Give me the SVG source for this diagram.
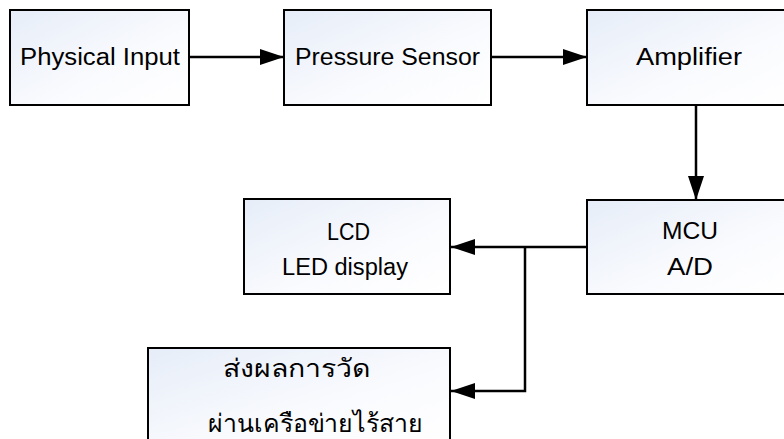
<svg xmlns="http://www.w3.org/2000/svg" width="784" height="439" viewBox="0 0 784 439">
<defs>
<linearGradient id="g" x1="0" y1="0" x2="1" y2="1">
<stop offset="0" stop-color="#e6edf8"/>
<stop offset="0.6" stop-color="#fafbfe"/>
<stop offset="1" stop-color="#ffffff"/>
</linearGradient>
<marker id="a" markerWidth="24" markerHeight="16" refX="24" refY="8" orient="auto" markerUnits="userSpaceOnUse">
<path d="M0,0 L24,8 L0,16 Z" fill="#000"/>
</marker>
</defs>
<style>
.box{fill:url(#g);stroke:#000;stroke-width:2}
.t{font-family:"Liberation Sans","Noto Sans",sans-serif;font-size:23px;fill:#000;text-anchor:middle}
.th{font-size:25px}
.c{fill:none;stroke:#000;stroke-width:2.5}
</style>
<rect width="784" height="439" fill="#fff"/>
<g id="physical-input">
<rect class="box" x="10" y="10" width="179" height="95"/>
<text class="t" x="100" y="65" textLength="160" lengthAdjust="spacingAndGlyphs">Physical Input</text>
</g>
<g id="pressure-sensor">
<rect class="box" x="284" y="10" width="207" height="95"/>
<text class="t" x="387.5" y="65" textLength="185" lengthAdjust="spacingAndGlyphs">Pressure Sensor</text>
</g>
<g id="amplifier">
<rect class="box" x="587" y="10" width="210" height="95"/>
<text class="t" x="689" y="65" textLength="106" lengthAdjust="spacingAndGlyphs">Amplifier</text>
</g>
<g id="mcu">
<rect class="box" x="587" y="200" width="210" height="94"/>
<text class="t" x="690" y="239" textLength="56" lengthAdjust="spacingAndGlyphs">MCU</text>
<text class="t" x="690" y="275" textLength="46" lengthAdjust="spacingAndGlyphs">A/D</text>
</g>
<g id="lcd">
<rect class="box" x="244" y="199" width="206" height="95"/>
<text class="t" x="348.5" y="240" textLength="43" lengthAdjust="spacingAndGlyphs">LCD</text>
<text class="t" x="345" y="275" textLength="126" lengthAdjust="spacingAndGlyphs">LED display</text>
</g>
<g id="wireless">
<rect class="box" x="148" y="348" width="302" height="100"/>
<text class="t th" x="296.5" y="377" textLength="147" lengthAdjust="spacingAndGlyphs">ส่งผลการวัด</text>
<text class="t th" x="315.5" y="432" textLength="215" lengthAdjust="spacingAndGlyphs">ผ่านเครือข่ายไร้สาย</text>
</g>
<g id="connectors">
<line class="c" x1="189" y1="57" x2="284" y2="57" marker-end="url(#a)"/>
<line class="c" x1="491" y1="57" x2="587" y2="57" marker-end="url(#a)"/>
<line class="c" x1="696" y1="105" x2="696" y2="200" marker-end="url(#a)"/>
<line class="c" x1="587" y1="247" x2="451" y2="247" marker-end="url(#a)"/>
<polyline class="c" points="525,247 525,391 451,391" marker-end="url(#a)"/>
</g>
</svg>
